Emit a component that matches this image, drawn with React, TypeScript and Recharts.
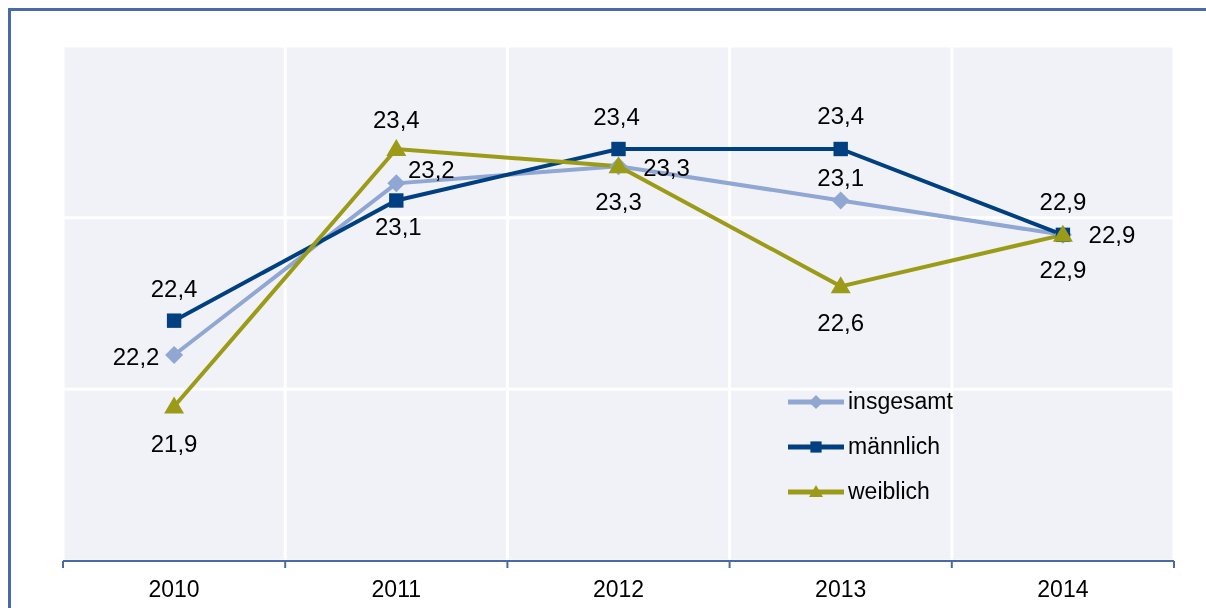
import React from 'react';
import { LineChart, Line, XAxis, YAxis, CartesianGrid, Legend, LabelList } from 'recharts';

const categories = ['2010', '2011', '2012', '2013', '2014'];
const insgesamt = [22.2, 23.2, 23.3, 23.1, 22.9];
const maennlich = [22.4, 23.1, 23.4, 23.4, 22.9];
const weiblich = [21.9, 23.4, 23.3, 22.6, 22.9];
const yTicks = [21, 22, 23, 24];

// label offsets (dx, dy) from each point, per series
const insgesamtLabelPos = [[-38, 1], [35, -14], [48, 1], [0, -23], [49, 0]];
const maennlichLabelPos = [[0, -32], [2, 26], [-2, -33], [0, -34], [0, -33]];
const weiblichLabelPos = [[0, 37], [0, -30], [0, 35], [0, 36], [0, 35]];

const data = categories.map((year, i) => ({
  idx: i,
  year,
  insgesamt: insgesamt[i],
  maennlich: maennlich[i],
  weiblich: weiblich[i],
}));

const boundaryTicks = [-0.5, ...categories.map((_, i) => i + 0.5)];
const centerTicks = categories.map((_, i) => i);

const FONT = '"Liberation Sans", Arial, sans-serif';
const AXIS_COLOR = '#4a6aa5';

type Shape = 'diamond' | 'square' | 'triangle';

function marker(shape: Shape, cx: number, cy: number, color: string, s: number) {
  if (shape === 'diamond') {
    return <polygon points={`${cx},${cy - s} ${cx + s},${cy} ${cx},${cy + s} ${cx - s},${cy}`} fill={color} />;
  }
  if (shape === 'square') {
    return <rect x={cx - s * 0.8} y={cy - s * 0.8} width={s * 1.6} height={s * 1.6} fill={color} />;
  }
  return <polygon points={`${cx},${cy - s} ${cx + s},${cy + s * 0.7} ${cx - s},${cy + s * 0.7}`} fill={color} />;
}

const series = [
  { key: 'insgesamt', name: 'insgesamt', color: '#8fa7d2', shape: 'diamond' as Shape, pos: insgesamtLabelPos },
  { key: 'maennlich', name: 'männlich', color: '#004080', shape: 'square' as Shape, pos: maennlichLabelPos },
  { key: 'weiblich', name: 'weiblich', color: '#9b9b18', shape: 'triangle' as Shape, pos: weiblichLabelPos },
];

const fmt = (v: number) => v.toFixed(1).replace('.', ',');

const makeLabel = (pos: number[][]) => (props: any) => {
  const { x, y, value, index } = props;
  const [dx, dy] = pos[index] || [0, -30];
  return (
    <text
      key={`l-${index}`}
      x={x + dx}
      y={y + dy}
      textAnchor="middle"
      dominantBaseline="central"
      fontFamily={FONT}
      fontSize={24}
      fill="#000"
    >
      {fmt(value)}
    </text>
  );
};

const renderLegend = () => (
  <div style={{ fontFamily: FONT, fontSize: 23, color: '#000' }}>
    {series.map((s) => (
      <div key={s.key} style={{ display: 'flex', alignItems: 'center', height: 45 }}>
        <svg width={62} height={24} style={{ display: 'block' }}>
          <line x1={2} x2={58} y1={12} y2={12} stroke={s.color} strokeWidth={5} />
          {marker(s.shape, 30, 12, s.color, 7)}
        </svg>
        <span>{s.name}</span>
      </div>
    ))}
  </div>
);

export default function App() {
  return (
    <div style={{ position: 'fixed', left: 8, top: 8, right: 0, bottom: 0, overflow: 'hidden' }}>
      <div style={{ borderLeft: `3px solid ${AXIS_COLOR}`, borderTop: `3px solid ${AXIS_COLOR}`, width: 1230, height: 620 }}>
        <LineChart width={1195} height={597} data={data} margin={{ top: 35, right: 32, bottom: 6, left: 52 }}>
          <CartesianGrid fill="#f1f2f7" stroke="#ffffff" strokeWidth={3} horizontal vertical />
          <XAxis
            type="number"
            dataKey="idx"
            domain={[-0.5, categories.length - 0.5]}
            ticks={boundaryTicks}
            tickFormatter={() => ''}
            interval={0}
            height={1}
            tickSize={7}
            axisLine={{ stroke: AXIS_COLOR, strokeWidth: 2 }}
            tickLine={{ stroke: AXIS_COLOR, strokeWidth: 2 }}
          />
          <XAxis
            xAxisId="labels"
            type="number"
            dataKey="idx"
            domain={[-0.5, categories.length - 0.5]}
            ticks={centerTicks}
            tickFormatter={(i: number) => categories[i]}
            interval={0}
            height={40}
            tickSize={0}
            tickMargin={19}
            axisLine={false}
            tickLine={false}
            tick={{ fontFamily: FONT, fontSize: 23, fill: '#000' }}
          />
          <YAxis hide domain={[21, 24]} ticks={yTicks} />
          <Legend
            layout="vertical"
            align="center"
            verticalAlign="middle"
            content={renderLegend}
            wrapperStyle={{ left: 775, top: 368, width: 220 }}
          />
          {series.map((s) => (
            <Line
              key={s.key}
              dataKey={s.key}
              name={s.name}
              stroke={s.color}
              strokeWidth={4}
              isAnimationActive={false}
              dot={(p: any) => <g key={`d-${s.key}-${p.index}`}>{marker(s.shape, p.cx, p.cy, s.color, s.shape === 'triangle' ? 10 : 9)}</g>}
              activeDot={false}
            >
              <LabelList dataKey={s.key} content={makeLabel(s.pos)} />
            </Line>
          ))}
        </LineChart>
      </div>
    </div>
  );
}
